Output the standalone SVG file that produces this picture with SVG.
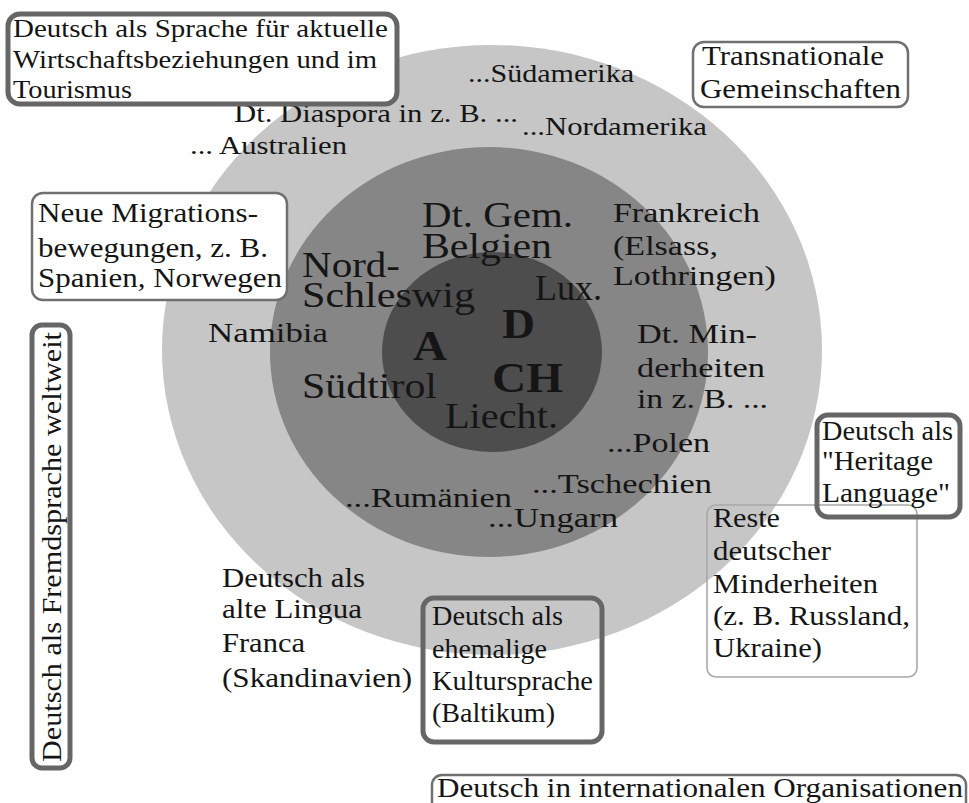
<svg xmlns="http://www.w3.org/2000/svg" width="969" height="803" viewBox="0 0 969 803" font-family="'Liberation Serif', 'Times New Roman', Times, 'DejaVu Serif', serif">
<style>
text{font-family:'Liberation Serif','Times New Roman',Times,'DejaVu Serif',serif;fill:#151515}
.s26{font-size:26px}.s27{font-size:27px}.s28{font-size:28px}.s36{font-size:35px}
.b{font-size:42px;font-weight:bold}
.thick{fill:none;stroke:#666;stroke-width:5}
.thickw{fill:#fff;stroke:#666;stroke-width:5}
.thin{fill:none;stroke:#707070;stroke-width:2.5}
.thinw{fill:#fff;stroke:#707070;stroke-width:2.5}
.light{fill:none;stroke:#a8a8a8;stroke-width:1.6}
</style>
<rect width="969" height="803" fill="#fff"/>
<g id="rings">
<ellipse cx="492" cy="350" rx="330" ry="305" fill="#c6c6c6"/>
<ellipse cx="489" cy="352" rx="219" ry="205" fill="#868686"/>
<ellipse cx="492" cy="352" rx="110" ry="100" fill="#4d4d4d"/>
</g>
<g id="connectors"/>
<g id="core">
<text class="b" x="502" y="338" textLength="33" lengthAdjust="spacingAndGlyphs">D</text>
<text class="b" x="413" y="360" textLength="34" lengthAdjust="spacingAndGlyphs">A</text>
<text class="b" x="492" y="392" textLength="71" lengthAdjust="spacingAndGlyphs">CH</text>
</g>
<g id="middle-ring">
<text class="s36" x="422" y="227" textLength="151" lengthAdjust="spacingAndGlyphs">Dt. Gem.</text>
<text class="s36" x="422" y="258" textLength="130" lengthAdjust="spacingAndGlyphs">Belgien</text>
<text class="s36" x="302" y="277" textLength="98" lengthAdjust="spacingAndGlyphs">Nord-</text>
<text class="s36" x="302" y="307" textLength="173" lengthAdjust="spacingAndGlyphs">Schleswig</text>
<text class="s36" x="535" y="300" textLength="67" lengthAdjust="spacingAndGlyphs">Lux.</text>
<text class="s36" x="302" y="398" textLength="135" lengthAdjust="spacingAndGlyphs">Südtirol</text>
<text class="s36" x="445" y="428" textLength="113" lengthAdjust="spacingAndGlyphs">Liecht.</text>
</g>
<g id="minorities">
<text class="s28" x="208" y="342" textLength="120" lengthAdjust="spacingAndGlyphs">Namibia</text>
<text class="s28" x="613" y="222" textLength="147" lengthAdjust="spacingAndGlyphs">Frankreich</text>
<text class="s28" x="613" y="255" textLength="105" lengthAdjust="spacingAndGlyphs">(Elsass,</text>
<text class="s28" x="613" y="285" textLength="163" lengthAdjust="spacingAndGlyphs">Lothringen)</text>
<text class="s28" x="637" y="343" textLength="120" lengthAdjust="spacingAndGlyphs">Dt. Min-</text>
<text class="s28" x="637" y="377" textLength="128" lengthAdjust="spacingAndGlyphs">derheiten</text>
<text class="s28" x="637" y="408" textLength="131" lengthAdjust="spacingAndGlyphs">in z. B. ...</text>
<text class="s28" x="607" y="452" textLength="103" lengthAdjust="spacingAndGlyphs">...Polen</text>
<text class="s28" x="532" y="493" textLength="180" lengthAdjust="spacingAndGlyphs">...Tschechien</text>
<text class="s28" x="345" y="507" textLength="167" lengthAdjust="spacingAndGlyphs">...Rumänien</text>
<text class="s28" x="488" y="527" textLength="130" lengthAdjust="spacingAndGlyphs">...Ungarn</text>
</g>
<g id="diaspora">
<text class="s26" x="468" y="82" textLength="166" lengthAdjust="spacingAndGlyphs">...Südamerika</text>
<text class="s26" x="234" y="122" textLength="284" lengthAdjust="spacingAndGlyphs">Dt. Diaspora in z. B. ...</text>
<text class="s26" x="522" y="135" textLength="185" lengthAdjust="spacingAndGlyphs">...Nordamerika</text>
<text class="s26" x="190" y="154" textLength="157" lengthAdjust="spacingAndGlyphs">... Australien</text>
</g>
<g id="box-wirtschaft">
<rect class="thickw" x="8" y="14" width="389" height="90" rx="12"/>
<text class="s26" x="13" y="37" textLength="375" lengthAdjust="spacingAndGlyphs">Deutsch als Sprache für aktuelle</text>
<text class="s26" x="13" y="68" textLength="364" lengthAdjust="spacingAndGlyphs">Wirtschaftsbeziehungen und im</text>
<text class="s26" x="13" y="98" textLength="119" lengthAdjust="spacingAndGlyphs">Tourismus</text>
</g>
<g id="box-transnational">
<rect class="thin" x="693" y="42" width="215" height="65" rx="11"/>
<text class="s28" x="702" y="65" textLength="182" lengthAdjust="spacingAndGlyphs">Transnationale</text>
<text class="s28" x="700" y="98" textLength="201" lengthAdjust="spacingAndGlyphs">Gemeinschaften</text>
</g>
<g id="box-migration">
<rect class="thinw" x="32" y="193" width="255" height="107" rx="11"/>
<text class="s27" x="38" y="222" textLength="220" lengthAdjust="spacingAndGlyphs">Neue Migrations-</text>
<text class="s27" x="38" y="257" textLength="230" lengthAdjust="spacingAndGlyphs">bewegungen, z. B.</text>
<text class="s27" x="38" y="287" textLength="244" lengthAdjust="spacingAndGlyphs">Spanien, Norwegen</text>
</g>
<g id="box-fremdsprache">
<rect class="thickw" x="32" y="325" width="38" height="443" rx="10"/>
<text class="s28" x="61" y="762" transform="rotate(-90 61 762)" textLength="430" lengthAdjust="spacingAndGlyphs">Deutsch als Fremdsprache weltweit</text>
</g>
<g id="lingua-franca">
<text class="s27" x="222" y="587" textLength="143" lengthAdjust="spacingAndGlyphs">Deutsch als</text>
<text class="s27" x="222" y="618" textLength="140" lengthAdjust="spacingAndGlyphs">alte Lingua</text>
<text class="s27" x="222" y="652" textLength="83" lengthAdjust="spacingAndGlyphs">Franca</text>
<text class="s27" x="222" y="687" textLength="190" lengthAdjust="spacingAndGlyphs">(Skandinavien)</text>
</g>
<g id="box-baltikum">
<rect class="thick" x="423" y="598" width="179" height="144" rx="11"/>
<text class="s27" x="432" y="625" textLength="131" lengthAdjust="spacingAndGlyphs">Deutsch als</text>
<text class="s27" x="432" y="658" textLength="115" lengthAdjust="spacingAndGlyphs">ehemalige</text>
<text class="s27" x="432" y="690" textLength="161" lengthAdjust="spacingAndGlyphs">Kultursprache</text>
<text class="s27" x="432" y="722" textLength="123" lengthAdjust="spacingAndGlyphs">(Baltikum)</text>
</g>
<g id="box-reste">
<rect class="light" x="707" y="505" width="210" height="172" rx="9"/>
<text class="s27" x="713" y="527" textLength="67" lengthAdjust="spacingAndGlyphs">Reste</text>
<text class="s27" x="713" y="560" textLength="118" lengthAdjust="spacingAndGlyphs">deutscher</text>
<text class="s27" x="713" y="593" textLength="165" lengthAdjust="spacingAndGlyphs">Minderheiten</text>
<text class="s27" x="713" y="625" textLength="197" lengthAdjust="spacingAndGlyphs">(z. B. Russland,</text>
<text class="s27" x="713" y="657" textLength="109" lengthAdjust="spacingAndGlyphs">Ukraine)</text>
</g>
<g id="box-heritage">
<rect class="thick" x="817" y="415" width="143" height="102" rx="11"/>
<text class="s27" x="822" y="440" textLength="131" lengthAdjust="spacingAndGlyphs">Deutsch als</text>
<text class="s27" x="822" y="470" textLength="111" lengthAdjust="spacingAndGlyphs">"Heritage</text>
<text class="s27" x="822" y="502" textLength="128" lengthAdjust="spacingAndGlyphs">Language"</text>
</g>
<g id="box-organisationen">
<rect class="thin" x="432" y="775" width="534" height="50" rx="10"/>
<text class="s27" x="437" y="797" textLength="526" lengthAdjust="spacingAndGlyphs">Deutsch in internationalen Organisationen</text>
</g>
</svg>
